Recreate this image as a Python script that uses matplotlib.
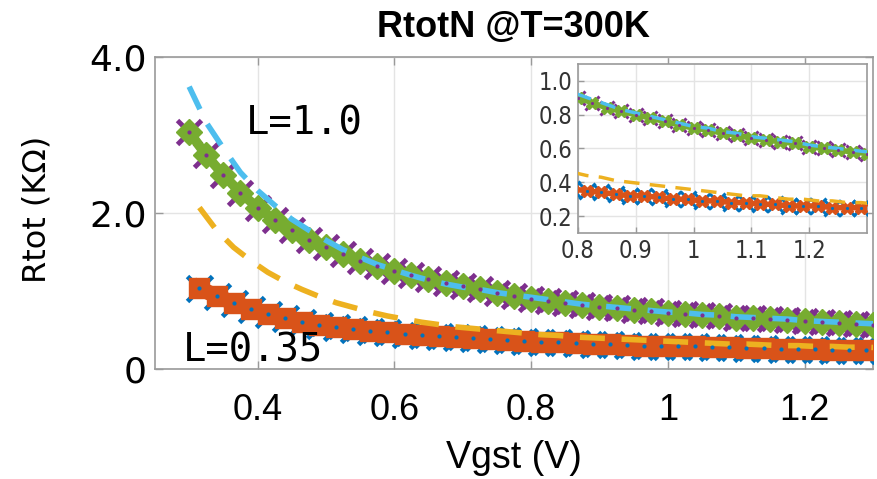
import numpy as np
import matplotlib
matplotlib.use("Agg")
import matplotlib.pyplot as plt

# Vgst sweeps (V) for the two gate lengths
vgst_l10 = np.linspace(0.300, 1.300, 41)
vgst_l035 = np.linspace(0.315, 1.315, 41)

# L = 1.0 : compact model (dashed), simulation (markers), fitted curve
rtot_l10_model = [3.62, 3.16, 2.83, 2.52, 2.29, 2.10, 1.92, 1.78, 1.65, 1.53,
                  1.43, 1.34, 1.27, 1.20, 1.14, 1.09, 1.05, 1.02, 0.98, 0.95,
                  0.92, 0.89, 0.86, 0.83, 0.81, 0.79, 0.77, 0.75, 0.73, 0.72,
                  0.70, 0.69, 0.67, 0.66, 0.65, 0.64, 0.62, 0.61, 0.60, 0.59,
                  0.58]
rtot_l10_sim = [3.04, 2.74, 2.49, 2.26, 2.07, 1.91, 1.78, 1.66, 1.56, 1.47,
                1.39, 1.32, 1.26, 1.20, 1.15, 1.10, 1.06, 1.02, 0.98, 0.94,
                0.90, 0.87, 0.84, 0.82, 0.80, 0.78, 0.76, 0.74, 0.72, 0.71,
                0.69, 0.68, 0.66, 0.65, 0.64, 0.63, 0.61, 0.60, 0.59, 0.58,
                0.57]
rtot_l10_fit = [3.04, 2.74, 2.49, 2.26, 2.07, 1.91, 1.78, 1.66, 1.56, 1.47,
                1.39, 1.32, 1.26, 1.20, 1.15, 1.10, 1.06, 1.02, 0.98, 0.94,
                0.90, 0.87, 0.84, 0.82, 0.80, 0.78, 0.76, 0.74, 0.72, 0.71,
                0.69, 0.68, 0.66, 0.65, 0.64, 0.63, 0.61, 0.60, 0.59, 0.58,
                0.57]

# L = 0.35
rtot_l035_model = [2.07, 1.78, 1.56, 1.39, 1.24, 1.12, 1.02, 0.93, 0.85, 0.79,
                   0.73, 0.68, 0.64, 0.60, 0.57, 0.54, 0.52, 0.50, 0.48, 0.46,
                   0.44, 0.43, 0.41, 0.40, 0.39, 0.38, 0.37, 0.36, 0.35, 0.34,
                   0.33, 0.32, 0.32, 0.31, 0.30, 0.30, 0.29, 0.29, 0.28, 0.28,
                   0.27]
rtot_l035_sim = [1.04, 0.93, 0.85, 0.77, 0.70, 0.65, 0.60, 0.57, 0.54, 0.51,
                 0.49, 0.47, 0.45, 0.44, 0.42, 0.41, 0.40, 0.39, 0.37, 0.36,
                 0.35, 0.34, 0.33, 0.32, 0.32, 0.31, 0.30, 0.30, 0.29, 0.29,
                 0.28, 0.28, 0.27, 0.27, 0.26, 0.26, 0.26, 0.25, 0.25, 0.25,
                 0.24]
rtot_l035_fit = [1.04, 0.93, 0.85, 0.77, 0.70, 0.65, 0.60, 0.57, 0.54, 0.51,
                 0.49, 0.47, 0.45, 0.44, 0.42, 0.41, 0.40, 0.39, 0.37, 0.36,
                 0.35, 0.34, 0.33, 0.32, 0.32, 0.31, 0.30, 0.30, 0.29, 0.29,
                 0.28, 0.28, 0.27, 0.27, 0.26, 0.26, 0.26, 0.25, 0.25, 0.25,
                 0.24]

main_xticks = [0.4, 0.6, 0.8, 1.0, 1.2]
main_xlabels = ["0.4", "0.6", "0.8", "1", "1.2"]
main_yticks = [0, 2, 4]
main_ylabels = ["0", "2.0", "4.0"]
zoom_xticks = [0.8, 0.9, 1.0, 1.1, 1.2]
zoom_xlabels = ["0.8", "0.9", "1", "1.1", "1.2"]
zoom_yticks = [0.2, 0.4, 0.6, 0.8, 1.0]
zoom_ylabels = ["0.2", "0.4", "0.6", "0.8", "1.0"]

BLUE = "#0072BD"
ORANGE = "#D95319"
YELLOW = "#EDB120"
PURPLE = "#7E2F8E"
GREEN = "#77AC30"
LBLUE = "#4DBEEE"
SPINE = "#9a9a9a"
GRID = "#e4e4e4"
DASH = (0, (4.5, 3))


def draw_curves(ax, small=False):
    k = 0.62 if small else 1.0
    ax.plot(vgst_l035, rtot_l035_sim, color=BLUE, ls=":", lw=2 * k,
            marker="x", ms=18 * k, mew=3.5 * k, zorder=3)
    ax.plot(vgst_l035, rtot_l035_fit, color=ORANGE, lw=(4 if small else 11),
            marker="X" if small else "s", ms=14 * k, zorder=4)
    ax.plot(vgst_l10, rtot_l10_sim, color=PURPLE, ls=":", lw=2 * k,
            marker="x", ms=17 * k, mew=3.5 * k, zorder=3)
    ax.plot(vgst_l10, rtot_l10_fit, color=GREEN, lw=(4 if small else 7),
            marker="X" if small else "D", ms=13 * k, zorder=4)
    ax.plot(vgst_l10, rtot_l10_model, color=LBLUE, ls=DASH, lw=4 * k,
            zorder=5)
    ax.plot(vgst_l035, rtot_l035_model, color=YELLOW, ls=DASH, lw=4 * k,
            zorder=5)
    # centre dots of the measured points
    ax.plot(vgst_l035, rtot_l035_sim, ls="none", marker=".", ms=4 * k,
            color=BLUE, zorder=6)
    ax.plot(vgst_l10, rtot_l10_sim, ls="none", marker=".", ms=4 * k,
            color=PURPLE, zorder=6)


def style_box(ax):
    for sp in ax.spines.values():
        sp.set_color(SPINE)
        sp.set_linewidth(1.2)
    ax.grid(True, color=GRID, lw=1)
    ax.set_axisbelow(True)


fig = plt.figure(figsize=(8.77, 4.79), dpi=100)

ax = fig.add_axes([0.1767, 0.2296, 0.8187, 0.6514])
draw_curves(ax)
ax.set_xlim(0.25, 1.30)
ax.set_ylim(0, 4)
ax.set_xticks(main_xticks)
ax.set_xticklabels(main_xlabels, family="Liberation Sans", fontsize=26)
ax.set_yticks(main_yticks)
ax.set_yticklabels(main_ylabels, family="DejaVu Sans", fontsize=26)
ax.tick_params(direction="in", top=True, right=True, length=6, width=1,
               color=SPINE)
ax.tick_params(axis="x", pad=17)
ax.tick_params(axis="y", pad=6)
style_box(ax)

ax.set_xlabel("Vgst (V)", family="Liberation Sans", fontsize=27, va="center")
ax.xaxis.set_label_coords(0.5, -0.285)
ax.set_ylabel("Rtot (K\u03a9)", family="DejaVu Sans", fontsize=23,
              va="center", ha="center")
ax.yaxis.set_label_coords(-0.164, 0.513)

ax.text(0.468, 3.15, "L=1.0", family="DejaVu Sans Mono", fontsize=28,
        ha="center", va="center", zorder=7)
ax.text(0.394, 0.24, "L=0.35", family="DejaVu Sans Mono", fontsize=28,
        ha="center", va="center", zorder=7)

fig.text(0.586, 0.942, "RtotN @T=300K", family="Liberation Sans",
         fontweight="bold", fontsize=26, ha="center", va="center")

# zoomed view of the high-Vgst region
axi = fig.add_axes([0.6591, 0.5136, 0.3295, 0.3528])
axi.set_facecolor("white")
draw_curves(axi, small=True)
axi.set_xlim(0.8, 1.3)
axi.set_ylim(0.1, 1.1)
axi.set_xticks(zoom_xticks)
axi.set_xticklabels(zoom_xlabels)
axi.set_yticks(zoom_yticks)
axi.set_yticklabels(zoom_ylabels)
axi.tick_params(direction="in", length=4, width=1, color=SPINE,
                labelsize=17, pad=4, labelcolor="#333333")
for lab in axi.get_xticklabels() + axi.get_yticklabels():
    lab.set_fontfamily(["Liberation Sans Narrow", "DejaVu Sans"])
    lab.set_fontstretch("condensed")
style_box(axi)

fig.savefig("out.png", dpi=100)
